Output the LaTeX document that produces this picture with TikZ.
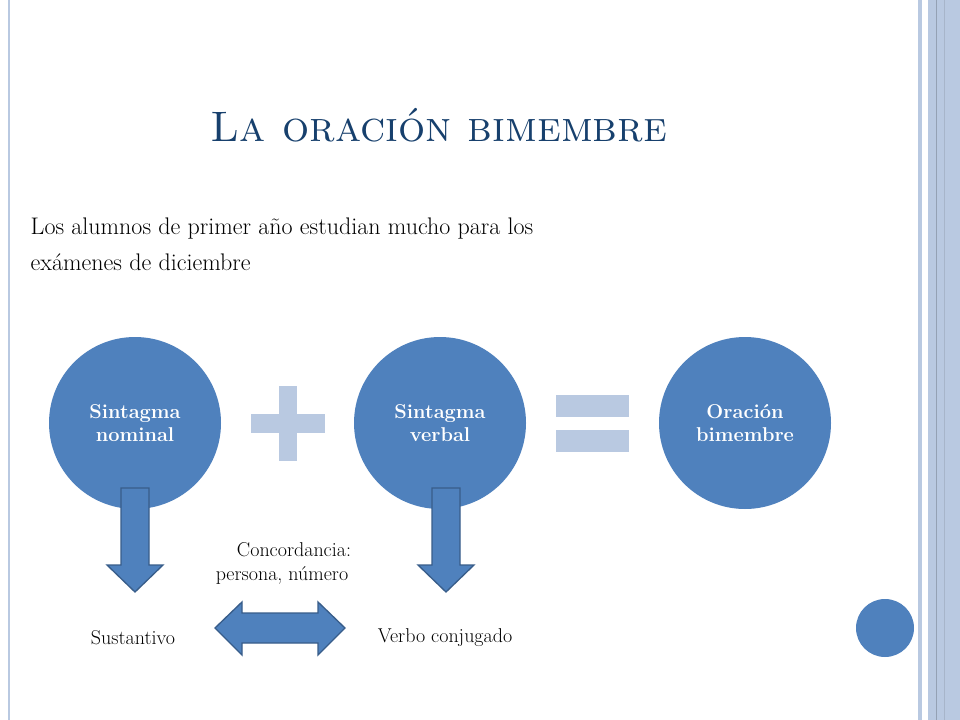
\documentclass[tikz,border=0pt]{standalone}
\usetikzlibrary{shapes.arrows}
\definecolor{acc}{HTML}{4F81BD}
\definecolor{accd}{HTML}{385D8A}
\definecolor{lite}{HTML}{B9C9E1}
\definecolor{ttl}{HTML}{17406D}
\begin{document}
\begin{tikzpicture}[x=0.75pt,y=-0.75pt,
  circ/.style={circle,fill=acc,minimum size=172*0.75pt,inner sep=0pt,text=white,font=\bfseries\fontsize{15}{17}\selectfont,align=center},
  blk/.style={fill=acc,draw=accd,line width=1pt},
  lbl/.style={font=\fontsize{15}{18}\selectfont,align=center}]
\useasboundingbox (0,0) rectangle (960,720);
\fill[white] (0,0) rectangle (960,720);
% borders
\fill[lite] (8,0) rectangle (10,720);
\fill[lite] (918,0) rectangle (922,720);
\fill[lite] (928,0) rectangle (960,720);
\fill[lite!80!black] (936,0) rectangle (937,720);
\fill[lite!90!black] (944,0) rectangle (945,720);
% title
\node[text=ttl,font=\fontsize{32}{36}\selectfont\scshape] (title) at (439,125) {La oración bimembre};
\node[anchor=west,font=\fontsize{18}{27}\selectfont,align=left] (sent) at (26,244) {Los alumnos de primer año estudian mucho para los\\exámenes de diciembre};
% circles
\node[circ] (sn) at (135,423) {Sintagma\\nominal};
\node[circ] (sv) at (440,423) {Sintagma\\verbal};
\node[circ] (ob) at (745,423) {Oración\\bimembre};
% plus
\fill[lite] (279,386) rectangle (297,461);
\fill[lite] (251,414) rectangle (325,433);
% equals
\fill[lite] (556,395) rectangle (629,417);
\fill[lite] (556,430) rectangle (629,452);
% down arrows
\draw[blk] (121,488) -- (149,488) -- (149,565) -- (163,565) -- (135,592) -- (107,565) -- (121,565) -- cycle;
\draw[blk] (432,488) -- (460,488) -- (460,565) -- (474,565) -- (446,592) -- (418,565) -- (432,565) -- cycle;
% double arrow
\draw[blk] (215,628) -- (242,602) -- (242,613) -- (318,613) -- (318,602) -- (345,628) -- (318,655) -- (318,643) -- (242,643) -- (242,655) -- cycle;
% labels
\node[lbl] (conc) at (282,563) {\hspace*{1.2em}Concordancia:\\persona, número};
\node[lbl] (sust) at (133,638) {Sustantivo};
\node[lbl] (verb) at (445,638) {Verbo conjugado};
% small circle
\node[circle,fill=acc,minimum size=58*0.75pt,inner sep=0pt] (dot) at (885,628) {};
\end{tikzpicture}
\end{document}
